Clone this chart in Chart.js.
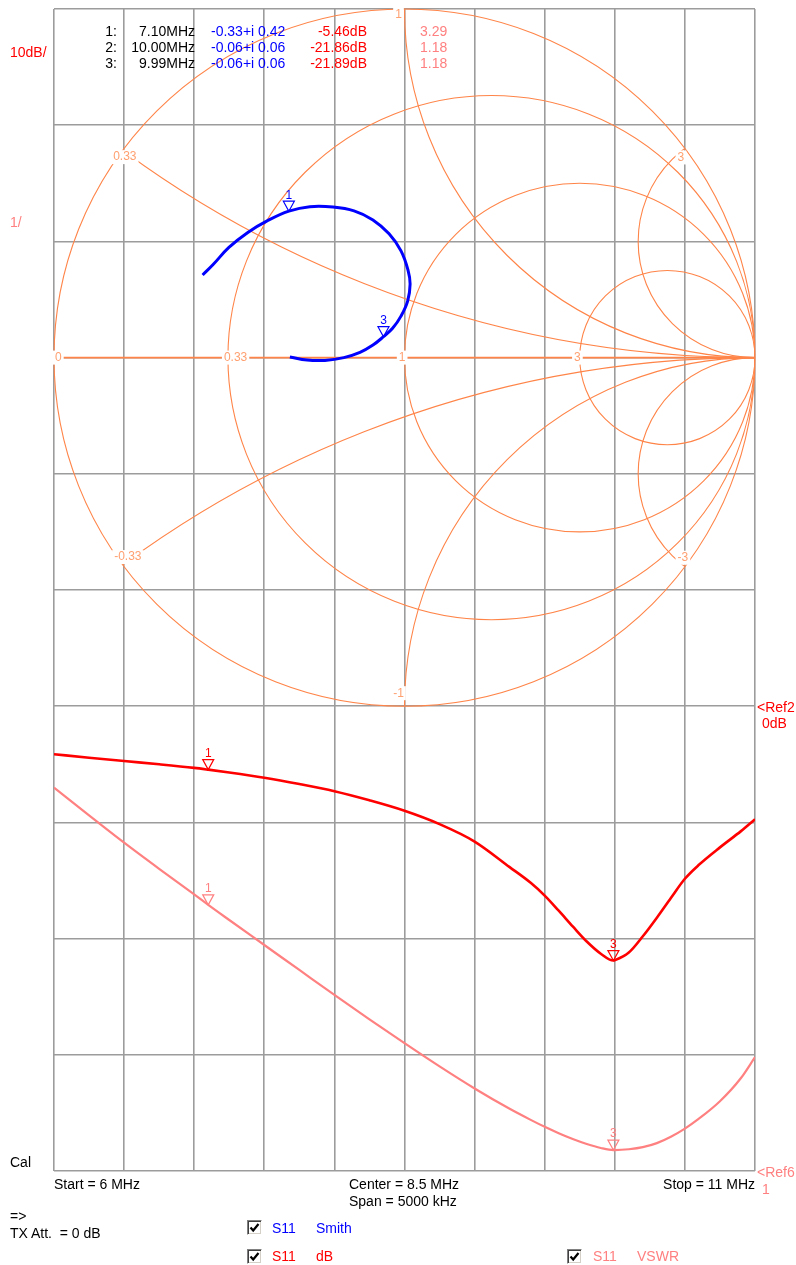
<!DOCTYPE html>
<html>
<head>
<meta charset="utf-8">
<title>S11 sweep</title>
<script src="https://cdn.jsdelivr.net/npm/chart.js@4.4.1/dist/chart.umd.min.js"></script>
<style>
  body { margin: 0; background: #fff; }
  #screen {
    position: relative; width: 796px; height: 1265px; overflow: hidden;
    font-family: "Liberation Sans", Arial, sans-serif; font-size: 14px; line-height: 16px; color: #000;
  }
  #screen canvas { position: absolute; left: 0; top: 0; }
  .txt { position: absolute; white-space: pre; }
  .r { text-align: right; }
  .chk {
    position: absolute; width: 13px; height: 13px; background: #fff;
    border: 1px solid; border-color: #808080 #ffffff #ffffff #808080;
    box-shadow: inset 1px 1px 0 #404040, inset -1px -1px 0 #d4d0c8;
  }
  .chk svg { position: absolute; left: 0; top: 0; }
</style>
</head>
<body>
<div id="screen">
  <canvas id="vna" width="796" height="1265"></canvas>
  <div id="readout"></div>

  <div class="txt" style="left:10px;top:44px;color:#ff0000">10dB/</div>
  <div class="txt" style="left:10px;top:214px;color:#ff8080">1/</div>
  <div class="txt" style="left:757px;top:699px;color:#ff0000">&lt;Ref2</div>
  <div class="txt" style="left:762px;top:715px;color:#ff0000">0dB</div>
  <div class="txt" style="left:757px;top:1164px;color:#ff8080">&lt;Ref6</div>
  <div class="txt" style="left:762px;top:1181px;color:#ff8080">1</div>
  <div class="txt" style="left:10px;top:1154px">Cal</div>
  <div class="txt" style="left:54px;top:1176px">Start = 6 MHz</div>
  <div class="txt" style="left:349px;top:1176px">Center = 8.5 MHz</div>
  <div class="txt" style="left:349px;top:1193px">Span = 5000 kHz</div>
  <div class="txt r" style="left:555px;width:200px;top:1176px">Stop = 11 MHz</div>
  <div class="txt" style="left:10px;top:1208px">=&gt;</div>
  <div class="txt" style="left:10px;top:1225px">TX Att.  = 0 dB</div>

  <div class="chk" style="left:247px;top:1220px"><svg width="13" height="13"><path d="M2.5 6.5 L5.2 9.5 L10.5 3" stroke="#000" stroke-width="2.2" fill="none"/></svg></div>
  <div class="txt" style="left:272px;top:1220px;color:#0000ff">S11</div>
  <div class="txt" style="left:316px;top:1220px;color:#0000ff">Smith</div>

  <div class="chk" style="left:247px;top:1249px"><svg width="13" height="13"><path d="M2.5 6.5 L5.2 9.5 L10.5 3" stroke="#000" stroke-width="2.2" fill="none"/></svg></div>
  <div class="txt" style="left:272px;top:1248px;color:#ff0000">S11</div>
  <div class="txt" style="left:316px;top:1248px;color:#ff0000">dB</div>

  <div class="chk" style="left:567px;top:1249px"><svg width="13" height="13"><path d="M2.5 6.5 L5.2 9.5 L10.5 3" stroke="#000" stroke-width="2.2" fill="none"/></svg></div>
  <div class="txt" style="left:593px;top:1248px;color:#ff8080">S11</div>
  <div class="txt" style="left:637px;top:1248px;color:#ff8080">VSWR</div>
</div>

<script>
// sweep points, MHz
const sweepMHz = [6.0, 6.25, 6.5, 6.75, 7.0, 7.1, 7.25, 7.5, 7.75, 8.0, 8.25, 8.5, 8.75, 9.0, 9.25, 9.4,
  9.5, 9.6, 9.7, 9.8, 9.9, 9.99, 10.0, 10.1, 10.2, 10.3, 10.4, 10.5, 10.6, 10.75, 10.9, 11.0];
// S11 magnitude, dB
const s11Db = [-4.13, -4.43, -4.72, -5.0, -5.31, -5.46, -5.70, -6.15, -6.70, -7.32, -8.10, -9.0, -10.15, -11.65, -13.85, -15.2,
  -16.3, -17.6, -18.95, -20.25, -21.3, -21.89, -21.86, -21.2, -19.8, -18.2, -16.5, -14.85, -13.65, -12.15, -10.75, -9.73];
// S11 VSWR
const s11Vswr = [4.30, 4.06, 3.825, 3.60, 3.38, 3.29, 3.16, 2.945, 2.73, 2.515, 2.305, 2.10, 1.90, 1.71, 1.535, 1.44,
  1.38, 1.325, 1.275, 1.232, 1.198, 1.18, 1.18, 1.187, 1.205, 1.24, 1.295, 1.365, 1.45, 1.60, 1.80, 1.98];
// S11 reflection coefficient along the sweep (Smith trace)
const gammaRe = [-0.576, -0.546, -0.501, -0.447, -0.392, -0.33, -0.270, -0.204, -0.144, -0.090, -0.044, -0.010,
  0.010, 0.016, 0.009, -0.010, -0.034, -0.06, -0.090, -0.127, -0.173, -0.227, -0.278, -0.327];
const gammaIm = [0.237, 0.267, 0.316, 0.359, 0.392, 0.42, 0.433, 0.432, 0.421, 0.395, 0.355, 0.306,
  0.251, 0.211, 0.162, 0.119, 0.084, 0.06, 0.036, 0.015, 0.000, -0.008, -0.007, 0.002];

// markers
const markerIds = ["1", "2", "3"];
const markerMHz = [7.10, 10.00, 9.99];
const markerRe = [-0.33, -0.06, -0.06];
const markerIm = [0.42, 0.06, 0.06];
const markerDb = [-5.46, -21.86, -21.89];
const markerVswr = [3.29, 1.18, 1.18];
const markerOnTrace = [true, false, true];

// Smith chart grid: constant resistance circles and constant reactance arcs
const smithResistance = [0, 0.33, 1, 3];
const smithReactance = [0.33, -0.33, 1, -1, 3, -3];

const SMITH_COLOR = "#ff8448";
const SMITH_TEXT = "#ffa070";
const GRID_COLOR = "#9c9c9c";
const BLUE = "#0000ff";
const RED = "#ff0000";
const PINK = "#ff8080";

// label nudges for the reactance values on the rim
const rimLabelShift = { "0.33": [2, 7], "-0.33": [5, -8], "1": [-6, 6], "-1": [-6, -13], "3": [-4, 9], "-3": [-2, -9] };

function fmt(v) {
  return v.toFixed(2);
}

function fillReadout() {
  const box = document.getElementById("readout");
  const cols = [
    { right: 117, color: "#000", text: (i) => markerIds[i] + ":" },
    { right: 195, color: "#000", text: (i) => fmt(markerMHz[i]) + "MHz" },
    { left: 211, color: BLUE, text: (i) => fmt(markerRe[i]) + (markerIm[i] < 0 ? "-i " : "+i ") + fmt(Math.abs(markerIm[i])) },
    { right: 367, color: RED, text: (i) => fmt(markerDb[i]) + "dB" },
    { left: 420, color: PINK, text: (i) => fmt(markerVswr[i]) }
  ];
  markerIds.forEach((id, i) => {
    cols.forEach((col) => {
      const el = document.createElement("div");
      el.className = "txt";
      el.style.top = (23 + i * 16) + "px";
      el.style.color = col.color;
      if (col.right !== undefined) {
        el.classList.add("r");
        el.style.left = (col.right - 120) + "px";
        el.style.width = "120px";
      } else {
        el.style.left = col.left + "px";
      }
      el.textContent = col.text(i);
      box.appendChild(el);
    });
  });
}

function labelBox(ctx, text, x, y, align) {
  const w = ctx.measureText(text).width;
  const left = align === "left" ? x : align === "right" ? x - w : x - w / 2;
  ctx.fillStyle = "#fff";
  ctx.fillRect(left - 2, y - 7, w + 4, 14);
  ctx.fillStyle = SMITH_TEXT;
  ctx.textAlign = "left";
  ctx.fillText(text, left, y);
}

const smithGrid = {
  id: "smithGrid",
  beforeDatasetsDraw(chart) {
    const { ctx } = chart;
    const sx = chart.scales.xG;
    const sy = chart.scales.yG;
    const px = (v) => sx.getPixelForValue(v);
    const py = (v) => sy.getPixelForValue(v);
    const kx = px(1) - px(0);
    const ky = py(0) - py(1);

    ctx.save();
    ctx.strokeStyle = SMITH_COLOR;
    ctx.lineWidth = 1.1;

    ctx.save();
    ctx.beginPath();
    ctx.ellipse(px(0), py(0), kx, ky, 0, 0, Math.PI * 2);
    ctx.clip();
    smithResistance.forEach((r) => {
      if (r === 0) return;
      const c = r / (1 + r);
      const rad = 1 / (1 + r);
      ctx.beginPath();
      ctx.ellipse(px(c), py(0), rad * kx, rad * ky, 0, 0, Math.PI * 2);
      ctx.stroke();
    });
    smithReactance.forEach((x) => {
      const rad = 1 / Math.abs(x);
      ctx.beginPath();
      ctx.ellipse(px(1), py(1 / x), rad * kx, rad * ky, 0, 0, Math.PI * 2);
      ctx.stroke();
    });
    ctx.restore();

    // outer rim (r = 0)
    ctx.beginPath();
    ctx.ellipse(px(0), py(0), kx, ky, 0, 0, Math.PI * 2);
    ctx.stroke();

    // real axis
    ctx.lineWidth = 1.6;
    ctx.beginPath();
    ctx.moveTo(px(-1), py(0));
    ctx.lineTo(px(1), py(0));
    ctx.stroke();

    ctx.font = "12px 'Liberation Sans', Arial, sans-serif";
    ctx.textBaseline = "middle";
    smithResistance.forEach((r) => {
      const g = (r - 1) / (r + 1);
      const text = String(r);
      if (r < 1) labelBox(ctx, text, px(g) + (r === 0 ? 1 : -4), py(0), "left");
      else labelBox(ctx, text, px(g) + 1, py(0), "right");
    });
    smithReactance.forEach((x) => {
      const re = (x * x - 1) / (x * x + 1);
      const im = (2 * x) / (x * x + 1);
      const text = String(x);
      const shift = rimLabelShift[text] || [0, 0];
      labelBox(ctx, text, px(re) + shift[0], py(im) + shift[1], "center");
    });
    ctx.restore();
  }
};

function drawMarker(ctx, x, y, id, color) {
  ctx.strokeStyle = color;
  ctx.fillStyle = color;
  ctx.lineWidth = 1.2;
  ctx.beginPath();
  ctx.moveTo(x - 5.5, y - 10);
  ctx.lineTo(x + 5.5, y - 10);
  ctx.lineTo(x, y);
  ctx.closePath();
  ctx.stroke();
  ctx.textAlign = "center";
  ctx.textBaseline = "middle";
  ctx.fillText(id, x, y - 16);
}

const markerPlugin = {
  id: "markerPlugin",
  afterDatasetsDraw(chart) {
    const { ctx, scales } = chart;
    ctx.save();
    ctx.font = "12px 'Liberation Sans', Arial, sans-serif";
    markerIds.forEach((id, i) => {
      if (!markerOnTrace[i]) return;
      drawMarker(ctx, scales.xG.getPixelForValue(markerRe[i]), scales.yG.getPixelForValue(markerIm[i]), id, BLUE);
      drawMarker(ctx, scales.xF.getPixelForValue(markerMHz[i]), scales.yDb.getPixelForValue(markerDb[i]), id, RED);
      drawMarker(ctx, scales.xF.getPixelForValue(markerMHz[i]), scales.yV.getPixelForValue(markerVswr[i]), id, PINK);
    });
    ctx.restore();
  }
};

function traceOver(xs, ys) {
  return xs.map((x, i) => ({ x, y: ys[i] }));
}

fillReadout();

new Chart(document.getElementById("vna"), {
  type: "scatter",
  data: {
    datasets: [
      {
        label: "S11 VSWR",
        data: traceOver(sweepMHz, s11Vswr),
        xAxisID: "xF",
        yAxisID: "yV",
        showLine: true,
        borderColor: PINK,
        borderWidth: 2.2,
        pointRadius: 0,
        cubicInterpolationMode: "monotone"
      },
      {
        label: "S11 dB",
        data: traceOver(sweepMHz, s11Db),
        xAxisID: "xF",
        yAxisID: "yDb",
        showLine: true,
        borderColor: RED,
        borderWidth: 2.6,
        pointRadius: 0,
        cubicInterpolationMode: "monotone"
      },
      {
        label: "S11 Smith",
        data: traceOver(gammaRe, gammaIm),
        xAxisID: "xG",
        yAxisID: "yG",
        showLine: true,
        borderColor: BLUE,
        borderWidth: 3,
        pointRadius: 0,
        tension: 0.4
      }
    ]
  },
  options: {
    responsive: false,
    animation: false,
    events: [],
    layout: { padding: { left: 54, right: 41, top: 9, bottom: 94 } },
    plugins: { legend: { display: false }, tooltip: { enabled: false } },
    scales: {
      xF: {
        type: "linear",
        position: "bottom",
        min: 6,
        max: 11,
        ticks: { display: false, stepSize: 0.5 },
        grid: { color: GRID_COLOR, lineWidth: 1.6, drawTicks: false },
        border: { display: false }
      },
      yDb: {
        type: "linear",
        position: "left",
        min: -40,
        max: 60,
        ticks: { display: false, stepSize: 10 },
        grid: { color: GRID_COLOR, lineWidth: 1.6, drawTicks: false },
        border: { display: false }
      },
      xG: { type: "linear", display: false, min: -1, max: 1 },
      yG: { type: "linear", display: false, min: -7 / 3, max: 1 },
      yV: { type: "linear", display: false, min: 1, max: 11 }
    }
  },
  plugins: [smithGrid, markerPlugin]
});
</script>
</body>
</html>
